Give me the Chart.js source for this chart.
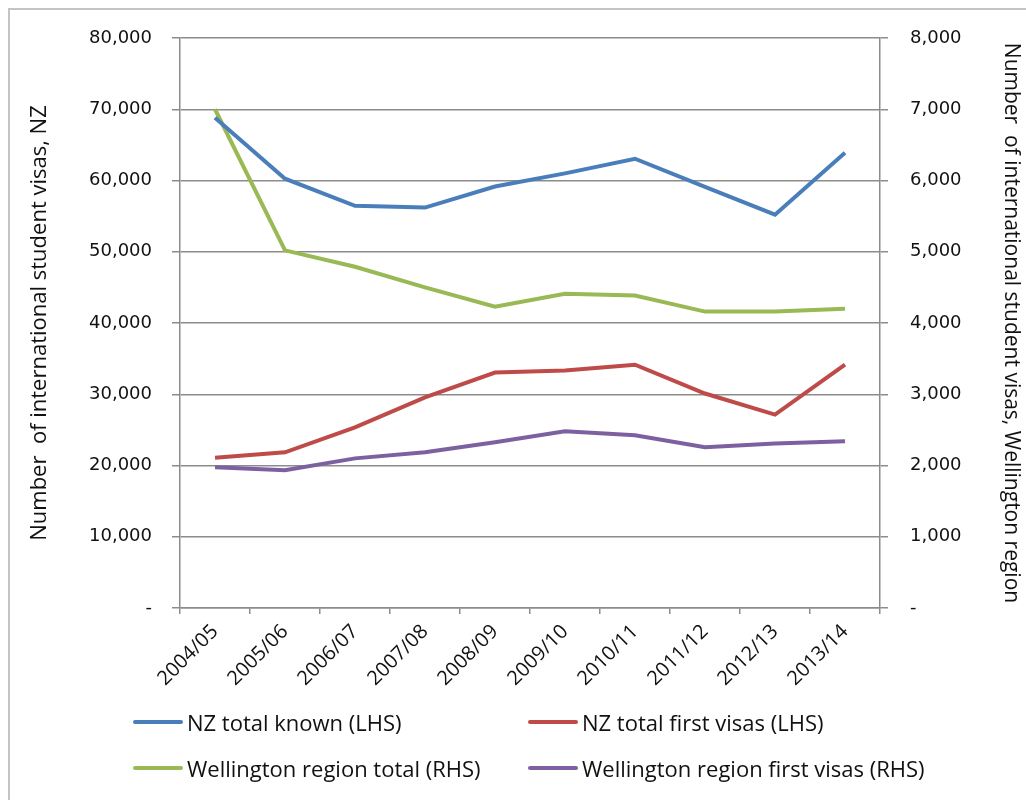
<!DOCTYPE html>
<html>
<head>
<meta charset="utf-8">
<script src="https://cdn.jsdelivr.net/npm/chart.js@4"></script>
<style>
  body { margin: 0; background: #fff; }
  #wrap { position: relative; width: 1026px; height: 800px; overflow: hidden; }
  #frame { position: absolute; left: 8px; top: 8px; width: 1100px; height: 900px; border: 2px solid #c4c4c4; pointer-events: none; }
  #legend { position: absolute; left: 0; top: 0; width: 1026px; height: 800px; pointer-events: none; font-family: "Open Sans", sans-serif; font-size: 22px; color: #111; }
  .item { position: absolute; display: flex; align-items: center; height: 30px; }
  .swatch { width: 50px; height: 4px; margin-right: 4px; border-radius: 2px; }
</style>
</head>
<body>
<div id="wrap">
  <canvas id="chart" width="1026" height="800"></canvas>
  <div id="legend"></div>
  <div id="frame"></div>
</div>
<script>
/* ================= DATA ================= */
const years = ["2004/05", "2005/06", "2006/07", "2007/08", "2008/09", "2009/10", "2010/11", "2011/12", "2012/13", "2013/14"];

const nzTotalKnown = [68800, 60250, 56450, 56200, 59150, 61000, 63050, 59100, 55200, 63900];
const nzTotalFirst = [21100, 21850, 25350, 29550, 33050, 33350, 34150, 30100, 27150, 34150];
const wgtnTotal = [7000, 5020, 4790, 4500, 4230, 4410, 4385, 4160, 4160, 4200];
const wgtnFirst = [1975, 1935, 2100, 2185, 2325, 2480, 2425, 2255, 2310, 2340];

const seriesNames = [
  "NZ total known (LHS)",
  "NZ total first visas (LHS)",
  "Wellington region total (RHS)",
  "Wellington region first visas (RHS)"
];
const seriesColors = ["#4a7ebb", "#be4b48", "#98b954", "#7d60a0"];

/* ================= CHART ================= */
const fmt = v => v === 0 ? "-" : v.toLocaleString("en-US");
const gridColor = "#8c8c8c";

function line(i, data, axis) {
  return {
    label: seriesNames[i],
    data: data,
    yAxisID: axis,
    borderColor: seriesColors[i],
    backgroundColor: seriesColors[i],
    borderWidth: 4,
    pointRadius: 0,
    tension: 0,
    fill: false
  };
}

new Chart(document.getElementById("chart"), {
  type: "line",
  data: {
    labels: years,
    datasets: [
      line(0, nzTotalKnown, "y"),
      line(1, nzTotalFirst, "y"),
      line(2, wgtnTotal, "y2"),
      line(3, wgtnFirst, "y2")
    ]
  },
  options: {
    responsive: false,
    animation: false,
    layout: { padding: { top: 38, bottom: 112, left: 0, right: 0 } },
    plugins: { legend: { display: false }, tooltip: { enabled: false } },
    scales: {
      x: {
        offset: true,
        grid: { drawOnChartArea: false, color: gridColor, lineWidth: 1.5, tickLength: 6, offset: true },
        border: { color: gridColor, width: 1.5 },
        ticks: {
          color: "#111", maxRotation: 45, minRotation: 45, padding: 6,
          font: { family: "Open Sans", size: 20 }
        },
        afterFit: s => { s.height = 80; }
      },
      y: {
        position: "left",
        min: 0, max: 80000,
        grid: { color: gridColor, lineWidth: 1.5, tickLength: 8 },
        border: { color: gridColor, width: 1.5 },
        ticks: {
          stepSize: 10000, padding: 20, color: "#111",
          font: { family: "DejaVu Sans", size: 18 },
          callback: v => fmt(v)
        },
        title: {
          display: true, text: "Number  of international student visas, NZ",
          color: "#111", font: { family: "Open Sans", size: 22 }, padding: { top: 27, bottom: 0 }
        },
        afterFit: s => { s.width = 180; }
      },
      y2: {
        position: "right",
        min: 0, max: 8000,
        grid: { drawOnChartArea: false, color: gridColor, lineWidth: 1.5, tickLength: 8 },
        border: { color: gridColor, width: 1.5 },
        ticks: {
          stepSize: 1000, padding: 22, color: "#111",
          font: { family: "DejaVu Sans", size: 18 },
          callback: v => fmt(v)
        },
        title: {
          display: true, text: "Number  of international student visas, Wellington region",
          color: "#111", font: { family: "Open Sans", size: 21 }, padding: { top: 2, bottom: 0 }
        },
        afterFit: s => { s.width = 146; }
      }
    }
  }
});

/* ================= LEGEND ================= */
const legendPos = [[133, 722], [528, 722], [133, 768], [528, 768]];
const legend = document.getElementById("legend");
seriesNames.forEach((name, i) => {
  const el = document.createElement("div");
  el.className = "item";
  el.style.left = legendPos[i][0] + "px";
  el.style.top = (legendPos[i][1] - 15) + "px";
  el.innerHTML = '<span class="swatch" style="background:' + seriesColors[i] + '"></span><span>' + name + '</span>';
  legend.appendChild(el);
});
</script>
</body>
</html>
